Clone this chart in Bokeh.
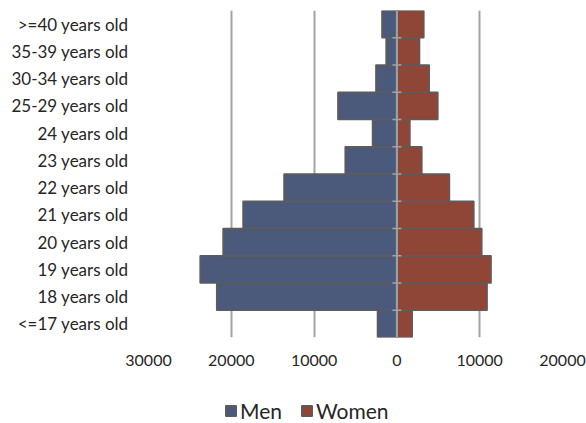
from bokeh.plotting import figure
from bokeh.layouts import column
from bokeh.models import (ColumnDataSource, Range1d, FixedTicker, Span, Legend, LegendItem)
from bokeh.embed import file_html
from bokeh.resources import INLINE

# Age groups from bottom to top
categories = ["<=17 years old", "18 years old", "19 years old", "20 years old",
              "21 years old", "22 years old", "23 years old", "24 years old",
              "25-29 years old", "30-34 years old", "35-39 years old", ">=40 years old"]
men = [2340, 21760, 23760, 20990, 18580, 13630, 6240, 2940, 7120, 2530, 1300, 1800]
women = [1850, 10890, 11370, 10250, 9290, 6340, 3010, 1570, 4940, 3900, 2730, 3250]
x_ticks = [-30000, -20000, -10000, 0, 10000, 20000]
series = ["Men", "Women"]

FONT = "Lato"
TEXT = "#262626"
GRID = "#a3a3a3"
EDGE = "#5c5c5c"
COLORS = {"Men": "#4b5a7b", "Women": "#8f4637"}

ypos = list(range(len(categories)))
src = ColumnDataSource(dict(
    y=ypos,
    men_left=[-v for v in men],
    women_right=women,
    zero=[0] * len(categories),
))

p = figure(width=586, height=395, output_backend="svg", toolbar_location=None,
           x_range=Range1d(x_ticks[0], x_ticks[-1]),
           y_range=Range1d(-0.5, len(categories) - 0.5),
           min_border_left=148, min_border_right=24, min_border_top=10,
           min_border_bottom=58)
p.outline_line_color = None

p.hbar(y="y", left="men_left", right="zero", height=1.0, source=src,
       fill_color=COLORS["Men"], line_color=EDGE, line_width=1.6)
p.hbar(y="y", left="zero", right="women_right", height=1.0, source=src,
       fill_color=COLORS["Women"], line_color=EDGE, line_width=1.6)

# vertical category axis at zero with small ticks between groups
p.add_layout(Span(location=0, dimension="height", line_color=GRID, line_width=2))
bounds = [i + 0.5 for i in ypos[:-1]]
p.scatter(x=[0] * len(bounds), y=bounds, marker="dash", size=9,
          line_color=GRID, line_width=1.5)

# x axis
p.xaxis.ticker = FixedTicker(ticks=x_ticks)
p.xaxis.major_label_overrides = {t: str(abs(t)) for t in x_ticks}
p.xaxis.axis_line_color = None
p.xaxis.major_tick_line_color = None
p.xaxis.minor_tick_line_color = None
p.xaxis.major_tick_out = 0
p.xaxis.major_label_standoff = 17
p.xaxis.major_label_text_font = FONT
p.xaxis.major_label_text_font_size = "16px"
p.xaxis.major_label_text_color = TEXT

p.xgrid.ticker = FixedTicker(ticks=[t for t in x_ticks if t != 0])
p.xgrid.grid_line_color = GRID
p.xgrid.grid_line_width = 2
p.ygrid.grid_line_color = None

# y axis with category names
p.yaxis.ticker = FixedTicker(ticks=ypos)
p.yaxis.major_label_overrides = {i: c for i, c in zip(ypos, categories)}
p.yaxis.axis_line_color = None
p.yaxis.major_tick_line_color = None
p.yaxis.minor_tick_line_color = None
p.yaxis.major_tick_out = 0
p.yaxis.major_label_standoff = 20
p.yaxis.major_label_text_font = FONT
p.yaxis.major_label_text_font_size = "17px"
p.yaxis.major_label_text_color = TEXT

# legend strip underneath the chart; swatch renderers carry no drawable data
nan = float("nan")
leg = figure(width=586, height=28, output_backend="svg", toolbar_location=None,
             x_range=Range1d(0, 1), y_range=Range1d(0, 1), min_border=0,
             x_axis_location=None, y_axis_location=None)
leg.outline_line_color = None
leg.grid.visible = False
items = []
for name in series:
    r = leg.hbar(y=[nan], left=[nan], right=[nan], height=1.0,
                 fill_color=COLORS[name], line_color=EDGE, line_width=1.6)
    items.append(LegendItem(label=name, renderers=[r]))
legend = Legend(items=items, orientation="horizontal", location=(76, 0),
                glyph_width=13, glyph_height=13, spacing=18,
                label_text_font=FONT, label_text_font_size="21px",
                label_text_color=TEXT, label_standoff=3,
                label_height=13, border_line_color=None,
                background_fill_alpha=0, margin=0, padding=4)
leg.add_layout(legend)

layout = column(p, leg, spacing=0)
open("out.html", "w").write(file_html(layout, INLINE))
